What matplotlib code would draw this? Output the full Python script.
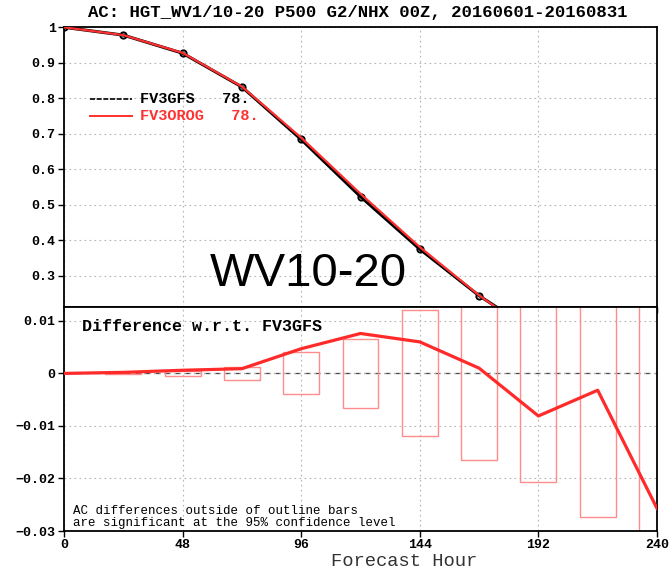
import numpy as np
import matplotlib
matplotlib.use("Agg")
import matplotlib.pyplot as plt

# forecast hours and anomaly correlation
hours = [0, 24, 48, 72, 96, 120, 144, 168, 192, 216, 240]
ac_fv3gfs = [1.0, 0.978, 0.927, 0.832, 0.684, 0.523, 0.375, 0.244, 0.135, 0.06, 0.02]
ac_fv3orog = [1.0, 0.978, 0.928, 0.833, 0.689, 0.531, 0.381, 0.245, 0.127, 0.057, -0.006]

# difference FV3OROG - FV3GFS and 95% significance half-ranges
diff = [0.0, 0.0002, 0.0006, 0.0009, 0.0047, 0.0076, 0.006, 0.001, -0.0081, -0.0032, -0.0257]
sig_half = [0.0, 0.0002, 0.0004, 0.0013, 0.004, 0.0066, 0.012, 0.0165, 0.0206, 0.0274, 0.035]

top_yticks = [0.3, 0.4, 0.5, 0.6, 0.7, 0.8, 0.9, 1.0]
top_ylabels = ["0.3", "0.4", "0.5", "0.6", "0.7", "0.8", "0.9", "1"]
bot_yticks = [-0.03, -0.02, -0.01, 0.0, 0.01]
bot_ylabels = ["\u22120.03", "\u22120.02", "\u22120.01", "0", "0.01"]
xticks = [0, 48, 96, 144, 192, 240]
xlabels = ["0", "48", "96", "144", "192", "240"]

title = "AC: HGT_WV1/10-20 P500 G2/NHX 00Z, 20160601-20160831"
names = ["FV3GFS   78.", "FV3OROG   78."]
note = ["AC differences outside of outline bars",
        "are significant at the 95% confidence level"]

mono = "Liberation Mono"
grid_kw = dict(color="#b5b5b5", linestyle=(0, (1.5, 3)), linewidth=0.8)

fig = plt.figure(figsize=(6.72, 5.76), dpi=100)
W, H = 672.0, 576.0
left, right = 64 / W, 657 / W
ax1 = fig.add_axes([left, 1 - 306.7 / H, right - left, 279.4 / H])
ax2 = fig.add_axes([left, 1 - 531 / H, right - left, 224.3 / H])

# ---- top panel
ax1.plot(hours, ac_fv3gfs, color="black", lw=2.2, marker="o", ms=4.5,
         mfc="none", mec="black", mew=1.4, zorder=3)
ax1.plot(hours, ac_fv3orog, color="#ff3030", lw=1.6, zorder=4)
ax1.set_xlim(0, 240)
ax1.set_ylim(0.213, 1.0)
ax1.set_xticks(xticks)
ax1.set_xticklabels([])
ax1.set_yticks(top_yticks)
ax1.set_yticklabels(top_ylabels)
ax1.tick_params(axis="x", length=0)
ax1.grid(True, **grid_kw)

# legend drawn by hand like GrADS
ax1.plot([10.5, 27.5], [0.798, 0.798], color="black", lw=1.2,
         linestyle=(0, (3, 1)), zorder=5)
ax1.plot([10.5, 27.5], [0.751, 0.751], color="#ff3030", lw=1.4, zorder=5)
ax1.text(30.8, 0.798, names[0], fontfamily=mono, fontweight="bold", fontsize=11,
         color="black", va="center", ha="left")
ax1.text(30.8, 0.751, names[1], fontfamily=mono, fontweight="bold", fontsize=11,
         color="#ff3030", va="center", ha="left")

ax1.text(59, 0.27, "WV10-20", fontfamily="Liberation Sans", fontsize=34,
         color="black", va="baseline", ha="left", zorder=6)

# ---- bottom panel
ax2.bar(hours, [2 * h for h in sig_half], bottom=[-h for h in sig_half], width=14.5,
        fill=False, edgecolor="#ff8c8c", linewidth=1.0, zorder=2)
ax2.axhline(0, color="#444444", lw=0.9, linestyle=(0, (5, 3)), zorder=1)
ax2.plot(hours, diff, color="#ff2a2a", lw=2.3, zorder=4)
ax2.set_xlim(0, 240)
ax2.set_ylim(-0.03, 0.0127)
ax2.set_xticks(xticks)
ax2.set_xticklabels(xlabels)
ax2.set_yticks(bot_yticks)
ax2.set_yticklabels(bot_ylabels)
ax2.grid(True, **grid_kw)

ax2.text(7.3, 0.009, "Difference w.r.t. FV3GFS", fontfamily=mono, fontweight="bold",
         fontsize=12, va="center", ha="left")
ax2.text(3.7, -0.0262, note[0], fontfamily=mono, fontsize=9, va="center", ha="left")
ax2.text(3.7, -0.0285, note[1], fontfamily=mono, fontsize=9, va="center", ha="left")

for ax in (ax1, ax2):
    for s in ax.spines.values():
        s.set_linewidth(1.3)
        s.set_color("black")
    ax.tick_params(axis="both", direction="out", length=4, width=1, pad=2,
                   labelsize=9.5)
    for lab in ax.get_yticklabels() + ax.get_xticklabels():
        lab.set_fontfamily(mono)
        lab.set_fontweight("bold")

fig.text(358 / W, 1 - 13 / H, title, fontfamily=mono, fontweight="bold",
         fontsize=12.5, ha="center", va="center")
fig.text(404 / W, 1 - 561 / H, "Forecast Hour", fontfamily=mono, fontsize=13.5,
         color="#333333", ha="center", va="center")

fig.savefig("out.png", dpi=100)
